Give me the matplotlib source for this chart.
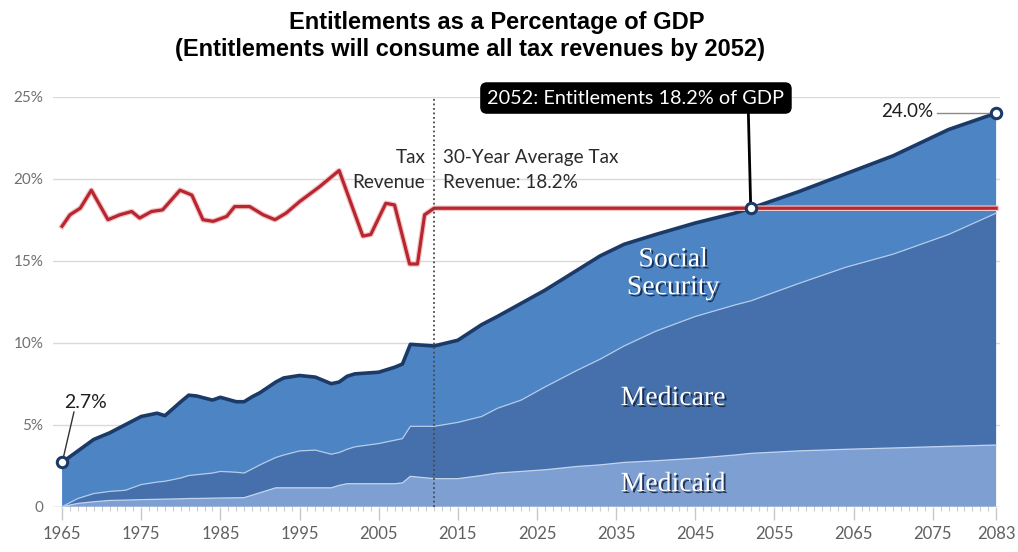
import matplotlib
matplotlib.use("Agg")
import matplotlib.pyplot as plt
import matplotlib.patheffects as pe
import numpy as np

# ---------------- data ----------------
years = [1965, 1967, 1969, 1971, 1973, 1975, 1977, 1978, 1980, 1981, 1982, 1984,
         1985, 1987, 1988, 1989, 1990, 1992, 1993, 1995, 1997, 1999, 2000, 2001,
         2002, 2005, 2007, 2008, 2009, 2012, 2015, 2018, 2020, 2023, 2026, 2030,
         2033, 2036, 2040, 2045, 2050, 2052, 2058, 2064, 2070, 2077, 2083]

medicaid = [0.0, 0.2, 0.3, 0.38, 0.4, 0.43, 0.45, 0.46, 0.48, 0.5, 0.5, 0.52,
            0.53, 0.54, 0.55, 0.7, 0.85, 1.15, 1.15, 1.15, 1.15, 1.15, 1.3, 1.4,
            1.4, 1.4, 1.4, 1.45, 1.85, 1.71, 1.71, 1.9, 2.05, 2.15, 2.25, 2.45,
            2.55, 2.7, 2.8, 2.95, 3.15, 3.25, 3.4, 3.5, 3.58, 3.68, 3.76]

medicare = [0.0, 0.3, 0.5, 0.55, 0.6, 0.92, 1.05, 1.09, 1.27, 1.4, 1.45, 1.53,
            1.62, 1.56, 1.5, 1.6, 1.7, 1.85, 2.0, 2.25, 2.3, 2.05, 2.0, 2.1,
            2.25, 2.45, 2.65, 2.7, 3.05, 3.19, 3.43, 3.6, 3.95, 4.35, 5.05, 5.85,
            6.45, 7.1, 7.9, 8.65, 9.15, 9.3, 10.2, 11.1, 11.82, 12.92, 14.14]

social_security = [2.7, 2.9, 3.3, 3.57, 4.0, 4.15, 4.2, 4.0, 4.65, 4.9, 4.8, 4.45,
                   4.52, 4.3, 4.35, 4.4, 4.4, 4.6, 4.7, 4.6, 4.45, 4.3, 4.3, 4.45,
                   4.45, 4.35, 4.45, 4.55, 5.0, 4.9, 5.01, 5.6, 5.6, 5.9, 5.9, 6.1,
                   6.3, 6.2, 5.9, 5.7, 5.6, 5.65, 5.6, 5.7, 6.0, 6.4, 6.1]

tax_years = [1965, 1966, 1967.3, 1968.7, 1970.8, 1972.3, 1973.8, 1974.8, 1976.3,
             1977.7, 1979.9, 1981.4, 1982.8, 1984.1, 1985.8, 1986.8, 1988.7,
             1990.4, 1991.9, 1993.3, 1995, 1997.5, 2000, 2003, 2004, 2005.9,
             2007, 2008.9, 2009.9, 2010.8, 2012, 2083]
tax_revenue = [17.1, 17.8, 18.2, 19.3, 17.5, 17.8, 18.0, 17.6, 18.0, 18.1, 19.3,
               19.0, 17.5, 17.4, 17.7, 18.3, 18.3, 17.8, 17.5, 17.9, 18.6, 19.5,
               20.5, 16.5, 16.6, 18.5, 18.4, 14.8, 14.8, 17.8, 18.2, 18.2]

x_ticks = [1965, 1975, 1985, 1995, 2005, 2015, 2025, 2035, 2045, 2055, 2065, 2075, 2083]
y_ticks = [0, 5, 10, 15, 20, 25]
y_tick_labels = ["0", "5%", "10%", "15%", "20%", "25%"]

projection_start = 2012
crossover_year, crossover_value = 2052, 18.2
start_value, end_value = 2.7, 24.0

# ---------------- style ----------------
c_ss = "#4d84c4"
c_medicare = "#4670ac"
c_medicaid = "#7e9fd2"
c_edge = "#1b3a68"
c_red = "#b8262f"
c_grid = "#dadada"
c_tick = "#606060"
sans = ["Lato", "DejaVu Sans"]
serif = ["Liberation Serif", "DejaVu Serif"]

fig = plt.figure(figsize=(10.18, 5.52), dpi=100)
ax = fig.add_axes([0.0521, 0.0821, 0.9303, 0.7427])

ax.stackplot(years, medicaid, medicare, social_security,
             colors=[c_medicaid, c_medicare, c_ss], lw=0, zorder=1)

yrs = np.array(years)
b1 = np.array(medicaid)
b2 = b1 + np.array(medicare)
total = b2 + np.array(social_security)

ax.plot(yrs, b1, color="#c2d4ee", lw=0.9, zorder=2)
ax.plot(yrs, b2, color="#b3cbec", lw=0.9, zorder=2)
ax.plot(yrs, total, color=c_edge, lw=2.6, zorder=3, solid_capstyle="round")

# tax revenue line
ax.plot(tax_years, tax_revenue, color=c_red, lw=2.3, zorder=4,
        solid_joinstyle="round",
        path_effects=[pe.Stroke(linewidth=4.0, foreground="#f2c4c6"), pe.Normal()])

# projection divider
ax.plot([projection_start, projection_start], [0, 25], color="#4a4a4a",
        lw=1.3, ls=(0, (1, 1.5)), zorder=5)

# markers
for xm, ym in [(years[0], start_value), (crossover_year, crossover_value),
               (years[-1], end_value)]:
    ax.plot([xm], [ym], marker="o", ms=7.5, mfc="white", mec=c_edge, mew=2.2,
            zorder=8, clip_on=False)

# axes styling
ax.set_xlim(1963.86, 2083.5)
ax.set_ylim(0, 25)
ax.set_axisbelow(True)
for s in ax.spines.values():
    s.set_visible(False)
ax.set_yticks(y_ticks)
ax.set_yticklabels(y_tick_labels)
ax.yaxis.grid(True, color=c_grid, lw=1.0)
ax.set_xticks(x_ticks)
ax.set_xticklabels([str(t) for t in x_ticks])
ax.set_xticks(np.arange(1965, 2084, 1), minor=True)
ax.tick_params(axis="y", length=0, pad=7, labelsize=11, labelcolor="#707070")
ax.tick_params(axis="x", which="major", direction="out", length=9, width=1,
               color="#c8c8c8", pad=5, labelsize=12, labelcolor=c_tick)
ax.tick_params(axis="x", which="minor", direction="inout", length=6, width=0.8,
               color="#cfcfcf")
for lab in ax.get_xticklabels() + ax.get_yticklabels():
    lab.set_fontfamily(sans)
ax.axhline(0, color="#d0d0d0", lw=1, zorder=0.6)

# labels in areas
shadow = [pe.SimplePatchShadow(offset=(1.4, -1.4), shadow_rgbFace="#0e2040", alpha=0.85),
          pe.Normal()]
lab_x = 2042.2
ax.text(lab_x, 15.05, "Social", ha="center", va="center", color="white",
        fontsize=20, family=serif, path_effects=shadow, zorder=6)
ax.text(lab_x, 13.35, "Security", ha="center", va="center", color="white",
        fontsize=20, family=serif, path_effects=shadow, zorder=6)
ax.text(lab_x, 6.6, "Medicare", ha="center", va="center", color="white",
        fontsize=20, family=serif, path_effects=shadow, zorder=6)
ax.text(lab_x, 1.35, "Medicaid", ha="center", va="center", color="white",
        fontsize=20, family=serif, path_effects=shadow, zorder=6)

# tax revenue labels
txt_kw = dict(fontsize=13.6, family=sans, color="#2a2a2a", zorder=7, va="baseline")
ax.text(2010.9, 20.95, "Tax", ha="right", **txt_kw)
ax.text(2010.9, 19.42, "Revenue", ha="right", **txt_kw)
ax.text(2013.1, 20.95, "30-Year Average Tax", ha="left", **txt_kw)
ax.text(2013.1, 19.42, "Revenue: 18.2%", ha="left", **txt_kw)

# crossover callout
ax.plot([crossover_year, crossover_year - 0.3], [crossover_value, 24.0],
        color="black", lw=2, zorder=7, clip_on=False)
ax.text(2037.5, 24.92, "2052: Entitlements 18.2% of GDP", ha="center",
        va="center", fontsize=14.3, family=sans, color="white", zorder=9,
        clip_on=False,
        bbox=dict(boxstyle="round,pad=0.33,rounding_size=0.3", fc="black",
                  ec="black"))

# start / end labels
ax.text(1967.9, 6.38, "2.7%", ha="center", va="center", fontsize=14,
        family=sans, color="#1e1e1e", zorder=7)
ax.plot([1966.5, 1965.15], [5.77, 2.97], color="#333333", lw=1, zorder=7)
ax.text(2075.0, 24.07, "24.0%", ha="right", va="center", fontsize=13.5,
        family=sans, color="#1e1e1e", zorder=7, clip_on=False)
ax.plot([2075.5, 2082.2], [24.0, 24.0], color="#8a8a8a", lw=1, zorder=7,
        clip_on=False)

# title
fig.text(497 / 1018, 1 - 29 / 552, "Entitlements as a Percentage of GDP",
         ha="center", va="baseline", fontsize=17, fontweight="bold",
         family=["Liberation Sans", "DejaVu Sans"], color="black")
fig.text(470 / 1018, 1 - 56 / 552,
         "(Entitlements will consume all tax revenues by 2052)",
         ha="center", va="baseline", fontsize=17, fontweight="bold",
         family=["Liberation Sans", "DejaVu Sans"], color="black")

fig.savefig("out.png", dpi=100, facecolor="white")
